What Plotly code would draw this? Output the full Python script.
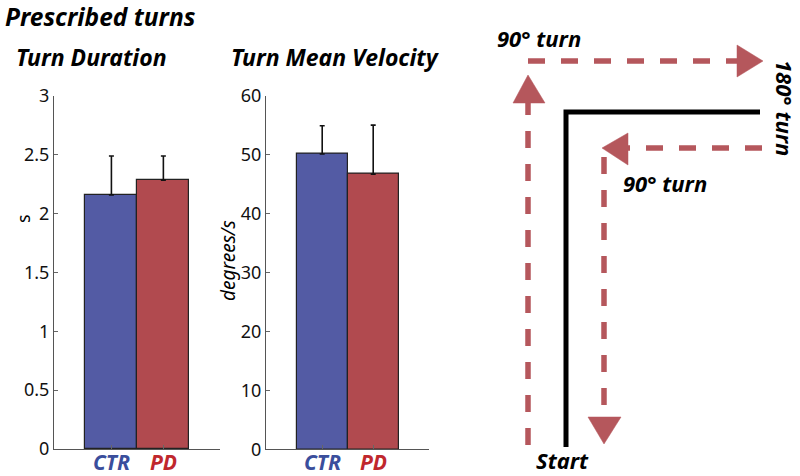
import plotly.graph_objects as go

# ---- data ----
groups = ["CTR", "PD"]
group_colors = ["#535BA4", "#B14A4F"]
group_label_colors = ["#3A4E9C", "#C0272D"]
duration_mean = [2.16, 2.285]
duration_err = [0.33, 0.205]
velocity_mean = [50.1, 46.7]
velocity_err = [4.8, 8.3]
duration_ticks = [0, 0.5, 1, 1.5, 2, 2.5, 3]
velocity_ticks = [0, 10, 20, 30, 40, 50, 60]

# ---- diagram (illustration, in pixel space of the right panel) ----
path_color = "#B5575C"
dashed_paths = [
    ([528, 528], [445, 103]),
    ([528, 737], [61, 61]),
    ([762, 628], [148, 148]),
    ([604, 604], [157, 417]),
]
arrow_heads = [
    ([513, 545, 528, 513], [103, 103, 75, 103]),
    ([737, 737, 763, 737], [45, 77, 61, 45]),
    ([628, 628, 602, 628], [133, 165, 148, 133]),
    ([588, 621, 604, 588], [417, 417, 444, 417]),
]
wall_x = [566, 566, 760]
wall_y = [447, 112, 112]
diagram_labels = [
    ("90° turn", 539, 38, 0),
    ("180° turn", 785, 108, 90),
    ("90° turn", 665, 183, 0),
    ("Start", 562, 460, 0),
]

W, H = 800, 476
FONT = "Noto Sans"

def px_x(v):
    return v / W

def px_y(v):
    return 1 - v / H

fig = go.Figure()

bar_x = [1, 2]
for i, g in enumerate(groups):
    fig.add_trace(go.Bar(
        x=[bar_x[i]], y=[duration_mean[i]], width=1,
        marker=dict(color=group_colors[i], line=dict(color="#222", width=1.2)),
        error_y=dict(type="data", symmetric=False, array=[duration_err[i]], arrayminus=[0],
                     color="#111", thickness=1.6, width=2.5),
        xaxis="x", yaxis="y", showlegend=False))
    fig.add_trace(go.Bar(
        x=[bar_x[i]], y=[velocity_mean[i]], width=1,
        marker=dict(color=group_colors[i], line=dict(color="#222", width=1.2)),
        error_y=dict(type="data", symmetric=False, array=[velocity_err[i]], arrayminus=[0],
                     color="#111", thickness=1.6, width=2.5),
        xaxis="x2", yaxis="y2", showlegend=False))

for xs, ys in dashed_paths:
    fig.add_trace(go.Scatter(x=xs, y=ys, mode="lines",
                             line=dict(color=path_color, width=5.5, dash="17px,16px"),
                             xaxis="x3", yaxis="y3", showlegend=False, hoverinfo="skip"))
for xs, ys in arrow_heads:
    fig.add_trace(go.Scatter(x=xs, y=ys, mode="lines", fill="toself",
                             fillcolor=path_color, line=dict(color=path_color, width=0.5),
                             xaxis="x3", yaxis="y3", showlegend=False, hoverinfo="skip"))
fig.add_trace(go.Scatter(x=wall_x, y=wall_y, mode="lines",
                         line=dict(color="#000", width=5),
                         xaxis="x3", yaxis="y3", showlegend=False, hoverinfo="skip"))

axis_common = dict(showgrid=False, zeroline=False, showline=True, linecolor="#555",
                   linewidth=1.2, ticks="inside", ticklen=4, tickcolor="#666",
                   automargin=False)
yfont = dict(family=FONT, size=18, color="#111")

fig.update_layout(
    width=W, height=H, margin=dict(l=0, r=0, t=0, b=0, pad=0, autoexpand=False),
    paper_bgcolor="white", plot_bgcolor="rgba(0,0,0,0)",
    barmode="overlay", bargap=0, showlegend=False,
    xaxis=dict(domain=[px_x(54), px_x(220)], range=[-0.105, 3.09], tickvals=bar_x,
               showticklabels=False, anchor="y", **axis_common),
    yaxis=dict(domain=[px_y(449), px_y(96)], range=[0, 3], tickvals=duration_ticks,
               ticktext=[f"{v:g}" for v in duration_ticks], anchor="x", tickfont=yfont,
               **axis_common),
    xaxis2=dict(domain=[px_x(266), px_x(429)], range=[-0.102, 3.094], tickvals=bar_x,
                showticklabels=False, anchor="y2", **axis_common),
    yaxis2=dict(domain=[px_y(449.3), px_y(95.7)], range=[0, 60], tickvals=velocity_ticks,
                anchor="x2", tickfont=yfont, **axis_common),
    xaxis3=dict(domain=[0, 1], range=[0, W], visible=False, anchor="y3", automargin=False),
    yaxis3=dict(domain=[0, 1], range=[H, 0], visible=False, anchor="x3", automargin=False),
)

annotations = [
    dict(text="<b><i>Prescribed turns</i></b>", x=px_x(3), y=px_y(17), xanchor="left",
         font=dict(size=24.5)),
    dict(text="<b><i>Turn Duration</i></b>", x=px_x(91), y=px_y(57), font=dict(size=23)),
    dict(text="<b><i>Turn Mean Velocity</i></b>", x=px_x(335), y=px_y(57), font=dict(size=23)),
    dict(text="s", x=px_x(23), y=px_y(219), textangle=-90, font=dict(size=18)),
    dict(text="<i>degrees/s</i>", x=px_x(228), y=px_y(260), textangle=-90, font=dict(size=19)),
]
for t, x, y, ang in diagram_labels:
    annotations.append(dict(text=f"<b><i>{t}</i></b>", x=px_x(x), y=px_y(y),
                            textangle=ang, font=dict(size=22)))
for a in annotations:
    a.update(xref="paper", yref="paper", showarrow=False)
    a.setdefault("xanchor", "center")
    a["yanchor"] = "middle"
    a["font"].update(family=FONT, color="#000")

# group labels under the bars, positioned on each chart's own x axis
for xref in ["x", "x2"]:
    for i, g in enumerate(groups):
        annotations.append(dict(text=f"<b><i>{g}</i></b>", x=bar_x[i], xref=xref,
                                y=px_y(462), yref="paper", showarrow=False,
                                xanchor="center", yanchor="middle",
                                font=dict(family=FONT, size=21, color=group_label_colors[i])))
fig.update_layout(annotations=annotations)

fig.write_html("out.html", config={"displayModeBar": False},
               post_script="document.body.style.margin='0';")
